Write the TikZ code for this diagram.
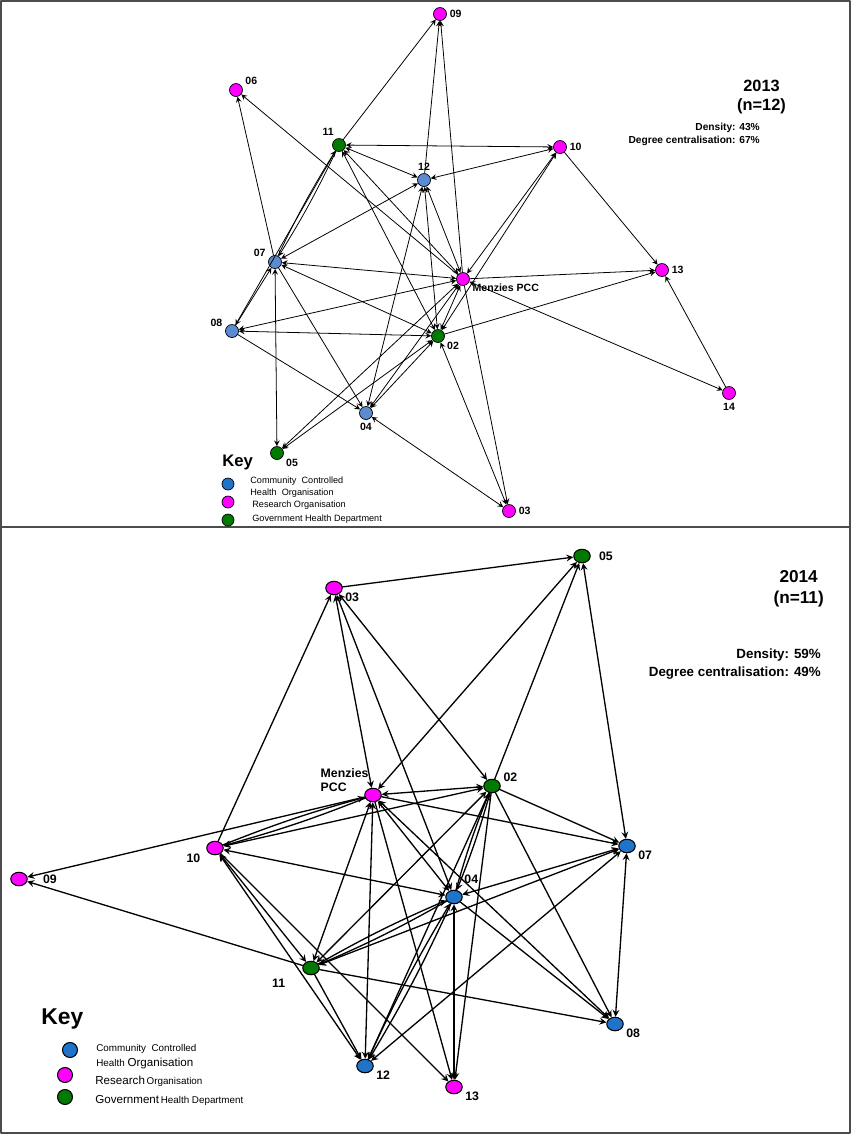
\documentclass[tikz,border=0pt]{standalone}
\usepackage{fontspec}
\setmainfont{Liberation Sans}
\usetikzlibrary{shapes.geometric}

\definecolor{cchoA}{HTML}{5B8BD0}
\definecolor{cchoB}{HTML}{1F74C9}
\definecolor{resorg}{HTML}{FF00FF}
\definecolor{govdep}{HTML}{007A00}

\tikzset{
  orgA/.style={circle,draw,thin,inner sep=0pt,minimum size=0.26cm},
  orgB/.style={ellipse,draw,semithick,inner sep=0pt,minimum width=0.33cm,minimum height=0.27cm},
  lblA/.style={font=\fontsize{6}{7}\selectfont\bfseries,inner sep=1.5pt},
  lblB/.style={font=\fontsize{7}{8}\selectfont\bfseries,inner sep=1.5pt},
  tieA/.style={line width=0.45pt},
  tieB/.style={line width=0.75pt},
  keytxt/.style={anchor=west,inner sep=0pt,font=\fontsize{5.2}{6}\selectfont},
}

\begin{document}
\begin{tikzpicture}[x=0.02cm,y=-0.02cm,>=stealth,line join=round,line cap=round]
\useasboundingbox (0,0) rectangle (851,1134);
\draw[gray!60!black,line width=1pt] (1,1) rectangle (850,1133);
\draw[gray!60!black,line width=1pt] (1,527) -- (850,527);

% 2013 network
\node[orgA,fill=resorg,label={[lblA]right:09}] (t09) at (440,14) {};
\node[orgA,fill=resorg,label={[lblA]20:06}] (t06) at (236,90) {};
\node[orgA,fill=govdep,label={[lblA]110:11}] (t11) at (339,145) {};
\node[orgA,fill=cchoA,label={[lblA]above:12}] (t12) at (424,180) {};
\node[orgA,fill=resorg,label={[lblA]right:10}] (t10) at (560,147) {};
\node[orgA,fill=cchoA,label={[lblA]160:07}] (t07) at (275,262) {};
\node[orgA,fill=resorg,label={[lblA]-12:Menzies PCC}] (tM) at (463,279) {};
\node[orgA,fill=resorg,label={[lblA]right:13}] (t13) at (662,270) {};
\node[orgA,fill=cchoA,label={[lblA]170:08}] (t08) at (232,331) {};
\node[orgA,fill=govdep,label={[lblA]-25:02}] (t02) at (438,336) {};
\node[orgA,fill=cchoA,label={[lblA]below:04}] (t04) at (366,413) {};
\node[orgA,fill=govdep,label={[lblA]-25:05}] (t05) at (277,453) {};
\node[orgA,fill=resorg,label={[lblA]below:14}] (t14) at (729,393) {};
\node[orgA,fill=resorg,label={[lblA]right:03}] (t03) at (509,511) {};

\foreach \a/\b in {11/09,12/09,M/09,07/06,M/06,11/08,08/07,10/13,M/13,02/13,14/13,M/03,08/04,07/04}
  \draw[tieA,->] (t\a) -- (t\b);
\foreach \a/\b in {11/10,12/10,11/12,12/07,M/07,M/08,02/07,02/08,07/05,M/05,02/05,04/M,04/02,12/04,10/M,10/02,M/14,M/02,02/03,04/03,12/M,12/02,11/M,11/02}
  \draw[tieA,<->] (t\a) -- (t\b);
\draw[tieA,->] (t11) to[bend left=3] (t07);
\draw[tieA,->] (t07) to[bend left=3] (t11);

\node[anchor=east,font=\fontsize{9.3}{11}\selectfont\bfseries,align=center] (tyear) at (792,97) {2013\\(n=12)};
\node[anchor=east,font=\fontsize{5.8}{7.5}\selectfont\bfseries,align=right] (tstat) at (766,134) {Density: 43\%\\Degree centralisation: 67\%};

\node[anchor=west,inner sep=0pt,font=\fontsize{9.5}{11}\selectfont\bfseries] (tkey) at (222,462) {Key};
\node[orgA,fill=cchoB,minimum size=0.24cm] (tk1) at (228,484) {};
\node[orgA,fill=resorg,minimum size=0.24cm] (tk2) at (228,502) {};
\node[orgA,fill=govdep,minimum size=0.24cm] (tk3) at (228,520) {};
\node[keytxt] at (250,481) {Community\ \ Controlled};
\node[keytxt] at (250,493) {Health\ \ Organisation};
\node[keytxt] at (252,505) {Research Organisation};
\node[keytxt] at (252,519) {Government Health Department};

% 2014 network
\node[orgB,fill=govdep,label={[lblB,label distance=3pt]right:05}] (b05) at (582,556) {};
\node[orgB,fill=resorg,label={[lblB]-15:03}] (b03) at (334,588) {};
\node[orgB,fill=resorg,label={[lblB,align=left,label distance=-4pt]162:Menzies\\PCC}] (bM) at (373,795) {};
\node[orgB,fill=govdep,label={[lblB]10:02}] (b02) at (492,786) {};
\node[orgB,fill=resorg,label={[lblB,label distance=2pt]-165:10}] (b10) at (215,848) {};
\node[orgB,fill=cchoB,label={[lblB]-15:07}] (b07) at (627,846) {};
\node[orgB,fill=resorg,label={[lblB,label distance=7pt]right:09}] (b09) at (19,879) {};
\node[orgB,fill=cchoB,label={[lblB,label distance=3pt]55:04}] (b04) at (454,897) {};
\node[orgB,fill=govdep,label={[lblB,label distance=9pt]-160:11}] (b11) at (311,968) {};
\node[orgB,fill=cchoB,label={[lblB]-15:08}] (b08) at (615,1024) {};
\node[orgB,fill=cchoB,label={[lblB]-15:12}] (b12) at (365,1066) {};
\node[orgB,fill=resorg,label={[lblB]-15:13}] (b13) at (454,1087) {};

\foreach \a/\b in {03/05,02/05,10/03,M/09,10/13,11/09,11/08,11/12,M/13,M/07,02/07,04/08,02/13,02/12,02/08}
  \draw[tieB,->] (b\a) -- (b\b);
\foreach \a/\b in {M/05,07/05,M/03,03/04,03/02,M/02,02/10,04/10,10/11,10/12,11/M,11/07,11/02,M/12,M/04,M/08,04/07,07/08,07/12,04/13}
  \draw[tieB,<->] (b\a) -- (b\b);
\foreach \a/\b in {M/10,10/M,11/04,04/11,04/02,02/04,04/12,12/04}
  \draw[tieB,->] (b\a) to[bend left=3] (b\b);

\node[anchor=east,font=\fontsize{9.8}{12}\selectfont\bfseries,align=center] (byear) at (830,589) {2014\\(n=11)};
\node[anchor=east,font=\fontsize{7.6}{10}\selectfont\bfseries,align=right] (bstat) at (827,664) {Density: 59\%\\Degree centralisation: 49\%};

\node[anchor=west,inner sep=0pt,font=\fontsize{13}{15}\selectfont\bfseries] (bkey) at (41,1019) {Key};
\node[orgB,fill=cchoB,minimum width=0.3cm,minimum height=0.3cm] (bk1) at (70,1050) {};
\node[orgB,fill=resorg,minimum width=0.3cm,minimum height=0.3cm] (bk2) at (65,1075) {};
\node[orgB,fill=govdep,minimum width=0.3cm,minimum height=0.3cm] (bk3) at (65,1097) {};
\node[keytxt,font=\fontsize{5.6}{7}\selectfont] at (96,1049) {Community\ \ Controlled};
\node[keytxt,font=\fontsize{5.6}{7}\selectfont] at (96,1063) {Health\ {\fontsize{6.6}{7}\selectfont Organisation}};
\node[keytxt,font=\fontsize{5.6}{7}\selectfont] at (95,1081) {{\fontsize{6.6}{7}\selectfont Research}\,Organisation};
\node[keytxt,font=\fontsize{5.6}{7}\selectfont] at (95,1100) {{\fontsize{6.6}{7}\selectfont Government}\,Health Department};
\end{tikzpicture}
\end{document}
